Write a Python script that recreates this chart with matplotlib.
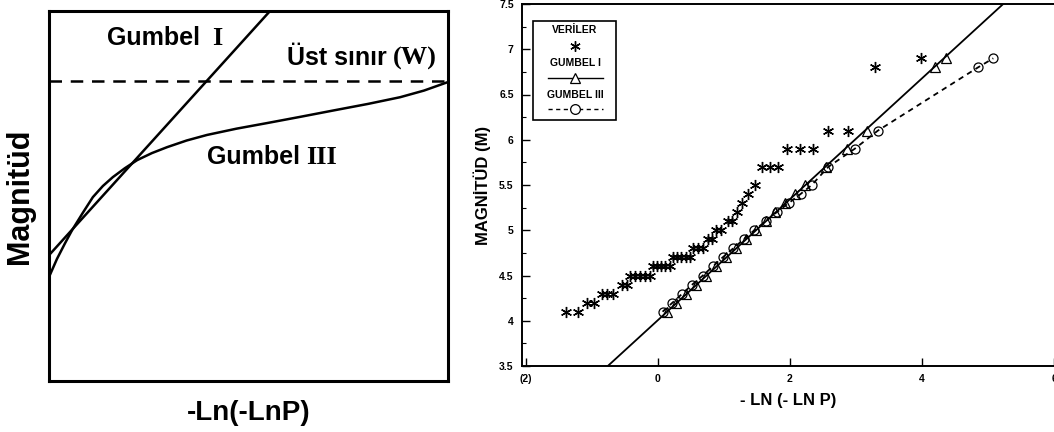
import matplotlib
matplotlib.use("Agg")
import matplotlib.pyplot as plt
from matplotlib.patches import Rectangle

plt.rcParams['font.family'] = ['Liberation Sans', 'DejaVu Sans']

# ---------------- Left panel (schematic) ----------------
left_xlabel = "-Ln(-LnP)"
left_ylabel = "Magnitüd"
upper_limit_y = 0.81
gumbel1_schematic_x = [0.0, 0.554]
gumbel1_schematic_y = [0.34, 1.0]
gumbel3_schematic_x = [0.0, 0.02, 0.04, 0.058, 0.085, 0.110, 0.135, 0.160, 0.190, 0.221,
                       0.258, 0.296, 0.345, 0.396, 0.470, 0.546, 0.630, 0.712, 0.800,
                       0.880, 0.940, 1.0]
gumbel3_schematic_y = [0.281, 0.330, 0.372, 0.408, 0.455, 0.497, 0.527, 0.551, 0.575, 0.597,
                       0.616, 0.632, 0.650, 0.665, 0.682, 0.697, 0.714, 0.731, 0.749,
                       0.767, 0.785, 0.808]

# ---------------- Right panel (data) ----------------
data_x = [-1.39, -1.21, -1.08, -0.97, -0.85, -0.77, -0.68, -0.55, -0.47,
          -0.42, -0.35, -0.27, -0.20, -0.12,
          -0.08, -0.02, 0.05, 0.11, 0.18,
          0.23, 0.29, 0.35, 0.42, 0.48,
          0.53, 0.61, 0.68, 0.76, 0.82, 0.88, 0.95, 1.06, 1.12,
          1.20, 1.27, 1.36, 1.47, 1.58, 1.70, 1.82, 1.95, 2.15, 2.35,
          2.58, 2.88, 3.29, 3.98]
data_y = [4.1, 4.1, 4.2, 4.2, 4.3, 4.3, 4.3, 4.4, 4.4,
          4.5, 4.5, 4.5, 4.5, 4.5,
          4.6, 4.6, 4.6, 4.6, 4.6,
          4.7, 4.7, 4.7, 4.7, 4.7,
          4.8, 4.8, 4.8, 4.9, 4.9, 5.0, 5.0, 5.1, 5.1,
          5.2, 5.3, 5.4, 5.5, 5.7, 5.7, 5.7, 5.9, 5.9, 5.9,
          6.1, 6.1, 6.8, 6.9]

gumbel1_line_x = [-0.76, 5.23]
gumbel1_line_y = [3.5, 7.5]
gumbel1_pts_x = [0.13, 0.28, 0.43, 0.58, 0.73, 0.88, 1.03, 1.18, 1.33, 1.48,
                 1.63, 1.78, 1.93, 2.08, 2.23, 2.55, 2.86, 3.17, 4.20, 4.36]
gumbel1_pts_y = [4.1, 4.2, 4.3, 4.4, 4.5, 4.6, 4.7, 4.8, 4.9, 5.0,
                 5.1, 5.2, 5.3, 5.4, 5.5, 5.7, 5.9, 6.1, 6.8, 6.9]
gumbel3_pts_x = [0.07, 0.22, 0.37, 0.52, 0.68, 0.83, 0.98, 1.14, 1.30, 1.46,
                 1.63, 1.80, 1.98, 2.16, 2.33, 2.58, 2.98, 3.33, 4.85, 5.08]
gumbel3_pts_y = [4.1, 4.2, 4.3, 4.4, 4.5, 4.6, 4.7, 4.8, 4.9, 5.0,
                 5.1, 5.2, 5.3, 5.4, 5.5, 5.7, 5.9, 6.1, 6.8, 6.9]

x_ticks = [-2, 0, 2, 4, 6]
x_ticklabels = ["(2)", "0", "2", "4", "6"]
y_ticks = [3.5, 4, 4.5, 5, 5.5, 6, 6.5, 7, 7.5]
y_ticklabels = ["3.5", "4", "4.5", "5", "5.5", "6", "6.5", "7", "7.5"]
right_xlabel = "- LN (- LN P)"
right_ylabel = "MAGNİTÜD (M)"
legend_labels = ["VERİLER", "GUMBEL I", "GUMBEL III"]

fig = plt.figure(figsize=(10.54, 4.32), dpi=100)

# ---- Left ----
axL = fig.add_axes([49/1054, 51/432, 399/1054, 370/432])
axL.set_xlim(0, 1)
axL.set_ylim(0, 1)
axL.set_xticks([])
axL.set_yticks([])
for s in axL.spines.values():
    s.set_linewidth(2.2)
axL.axhline(upper_limit_y, color='black', lw=1.8, dashes=(5, 3.5))
axL.plot(gumbel1_schematic_x, gumbel1_schematic_y, color='black', lw=1.8)
axL.plot(gumbel3_schematic_x, gumbel3_schematic_y, color='black', lw=1.8,
         solid_joinstyle='round')
axL.set_xlabel(left_xlabel, fontsize=20, fontweight='bold', labelpad=14)
axL.set_ylabel(left_ylabel, fontsize=22, fontweight='bold', labelpad=10)

fs_sans = 18
fs_serif = 19
axL.text(0.145, 0.926, "Gumbel", fontsize=fs_sans, fontweight='bold', va='center', ha='left')
axL.text(0.41, 0.926, "I", fontsize=fs_serif, fontweight='bold', family='Liberation Serif', va='center', ha='left')
axL.text(0.596, 0.872, "Üst sınır", fontsize=fs_sans, fontweight='bold', va='center', ha='left')
axL.text(0.862, 0.872, "(W)", fontsize=fs_serif, fontweight='bold', family='Liberation Serif', va='center', ha='left')
axL.text(0.396, 0.605, "Gumbel", fontsize=fs_sans, fontweight='bold', va='center', ha='left')
axL.text(0.645, 0.605, "III", fontsize=fs_serif, fontweight='bold', family='Liberation Serif', va='center', ha='left')

# ---- Right ----
axR = fig.add_axes([522/1054, 66/432, 532/1054, 362/432])
axR.set_xlim(-2.06, 6.0)
axR.set_ylim(3.5, 7.5)
axR.plot(gumbel1_line_x, gumbel1_line_y, color='black', lw=1.3)
axR.plot(gumbel3_pts_x, gumbel3_pts_y, color='black', lw=1.3, dashes=(3, 2.5))
axR.plot(gumbel1_pts_x, gumbel1_pts_y, ls='none', marker='^', ms=6.5,
         mfc='none', mec='black', mew=0.9)
axR.plot(gumbel3_pts_x, gumbel3_pts_y, ls='none', marker='o', ms=6.5,
         mfc='none', mec='black', mew=0.9)
axR.plot(data_x, data_y, ls='none', marker=(6, 2, 0), ms=8, mec='black', mew=1.0)

axR.set_xticks(x_ticks)
axR.set_xticklabels(x_ticklabels, fontsize=7.5, fontweight='bold')
axR.set_yticks(y_ticks)
axR.set_yticklabels(y_ticklabels, fontsize=7.5, fontweight='bold')
axR.set_yticks([3.75 + 0.5 * i for i in range(8)], minor=True)
axR.tick_params(direction='in', length=6, width=1.0, pad=6)
axR.tick_params(which='minor', direction='in', length=3, width=0.8)
axR.spines['right'].set_visible(False)
for s in ['left', 'top', 'bottom']:
    axR.spines[s].set_linewidth(1.4)
axR.set_xlabel(right_xlabel, fontsize=12, fontweight='bold', labelpad=6)
axR.set_ylabel(right_ylabel, fontsize=12, fontweight='bold', labelpad=6)

# legend box
tr = axR.transAxes
axR.add_patch(Rectangle((0.021, 0.68), 0.156, 0.273, transform=tr, fill=False,
                        lw=1.2, ec='black', zorder=5))
cx = 0.0996
axR.text(cx, 0.927, legend_labels[0], transform=tr, ha='center', va='center',
         fontsize=7.5, fontweight='bold')
axR.plot([cx], [0.884], transform=tr, marker=(6, 2, 0), ms=7.5, mec='black', mew=1.0)
axR.text(cx, 0.836, legend_labels[1], transform=tr, ha='center', va='center',
         fontsize=7.5, fontweight='bold')
axR.plot([0.049, 0.152], [0.796, 0.796], transform=tr, color='black', lw=1.0)
axR.plot([cx], [0.796], transform=tr, marker='^', ms=7, mfc='white', mec='black', mew=0.9)
axR.text(cx, 0.748, legend_labels[2], transform=tr, ha='center', va='center',
         fontsize=7.5, fontweight='bold')
axR.plot([0.049, 0.152], [0.711, 0.711], transform=tr, color='black', lw=1.0, dashes=(3, 2.5))
axR.plot([cx], [0.711], transform=tr, marker='o', ms=7, mfc='white', mec='black', mew=0.9)

fig.savefig("out.png", dpi=100)
